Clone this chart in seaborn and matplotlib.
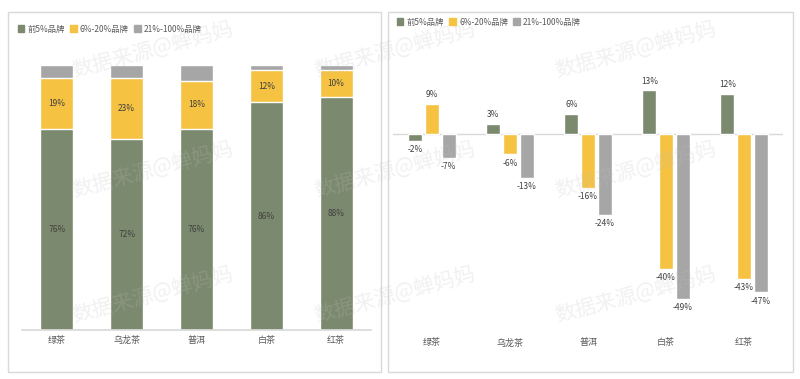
import pandas as pd
import seaborn as sns
import matplotlib.pyplot as plt
from matplotlib.patches import Rectangle

# Data
teas = ['绿茶', '乌龙茶', '普洱', '白茶', '红茶']
series = ['前5%品牌', '6%-20%品牌', '21%-100%品牌']

share_top5 = [76, 72, 76, 86, 88]
share_6_20 = [19, 23, 18, 12, 10]
share_21_100 = [5, 5, 6, 2, 2]

growth_top5 = [-2, 3, 6, 13, 12]
growth_6_20 = [9, -6, -16, -40, -43]
growth_21_100 = [-7, -13, -24, -49, -47]

colors = ['#7B8A6E', '#F5C242', '#A6A6A6']

sns.set_theme(style='white')
plt.rcParams['font.family'] = ['Noto Sans CJK SC', 'DejaVu Sans']
plt.rcParams['axes.unicode_minus'] = False

W, H = 800, 379
fig = plt.figure(figsize=(W / 100, H / 100), dpi=100)


def px_axes(x0, y0, x1, y1):
    # pixel box (top-left origin) -> figure axes
    return fig.add_axes([x0 / W, 1 - y1 / H, (x1 - x0) / W, (y1 - y0) / H])


# panel frames
for x0, y0, x1, y1 in [(8, 12, 381, 372), (388, 12, 793, 372)]:
    fig.patches.append(Rectangle((x0 / W, 1 - y1 / H), (x1 - x0) / W, (y1 - y0) / H,
                                 transform=fig.transFigure, fill=False,
                                 edgecolor='#D9D9D9', linewidth=1))

txt_color = '#595959'

# ---- left: stacked share ----
ax1 = px_axes(22, 65, 371, 330)
df1 = pd.DataFrame({'tea': teas, 'a': share_top5, 'b': share_6_20, 'c': share_21_100})
df1['ab'] = df1['a'] + df1['b']
df1['abc'] = df1['ab'] + df1['c']
sns.barplot(data=df1, x='tea', y='abc', color=colors[2], width=0.47, saturation=1, ax=ax1)
sns.barplot(data=df1, x='tea', y='ab', color=colors[1], width=0.47, saturation=1, ax=ax1)
sns.barplot(data=df1, x='tea', y='a', color=colors[0], width=0.47, saturation=1, ax=ax1)
for i, row in df1.iterrows():
    ax1.text(i, row['a'] / 2, f"{row['a']}%", ha='center', va='center', fontsize=6, color='#404040')
    ax1.text(i, row['a'] + row['b'] / 2, f"{row['b']}%", ha='center', va='center', fontsize=6, color='#404040')
ax1.set_ylim(0, 100)
ax1.set_xlim(-0.5, 4.5)
ax1.set_xlabel('')
ax1.set_ylabel('')
ax1.set_yticks([])
for s in ['top', 'right', 'left']:
    ax1.spines[s].set_visible(False)
ax1.spines['bottom'].set_color('#D9D9D9')
ax1.tick_params(axis='x', length=0, pad=4, labelsize=6.5, labelcolor=txt_color)
ax1.set_facecolor('none')

# ---- right: growth grouped ----
ax2 = px_axes(393, 40, 783, 330)
df2 = pd.DataFrame({'tea': teas * 3,
                    'group': [series[0]] * 5 + [series[1]] * 5 + [series[2]] * 5,
                    'value': growth_top5 + growth_6_20 + growth_21_100})
sns.barplot(data=df2, x='tea', y='value', hue='group', palette=colors, width=0.64,
            gap=0.16, saturation=1, legend=False, ax=ax2)
for cont in ax2.containers:
    for bar in cont:
        v = bar.get_height()
        xc = bar.get_x() + bar.get_width() / 2
        if v >= 0:
            ax2.text(xc, v + 1.3, f"{v:.0f}%", ha='center', va='bottom', fontsize=6, color='#404040')
        else:
            ax2.text(xc, v - 1.3, f"{v:.0f}%", ha='center', va='top', fontsize=6, color='#404040')
ax2.axhline(0, color='#D9D9D9', linewidth=1, zorder=0)
ax2.set_ylim(-58.2, 27.9)
ax2.set_xlim(-0.5, 4.5)
ax2.set_xlabel('')
ax2.set_ylabel('')
ax2.set_yticks([])
for s in ax2.spines.values():
    s.set_visible(False)
ax2.tick_params(axis='x', length=0, pad=6, labelsize=6.5, labelcolor=txt_color)
ax2.set_facecolor('none')

# legends
handles = [Rectangle((0, 0), 1, 1, color=c) for c in colors]
for x, y in [(10, 29), (389, 22)]:
    fig.legend(handles, series, loc='center left', bbox_to_anchor=(x / W, 1 - y / H),
               ncol=3, frameon=False, fontsize=6, handlelength=0.8, handleheight=0.8,
               handletextpad=0.4, columnspacing=0.6, labelcolor=txt_color)

# watermarks
for wx in [153, 395, 636]:
    for wy in [50, 170, 295]:
        fig.text(wx / W, 1 - wy / H, '数据来源@蝉妈妈', fontsize=15, color='#BFBFBF',
                 alpha=0.22, rotation=15, ha='center', va='center')

fig.savefig('out.png', dpi=100)
